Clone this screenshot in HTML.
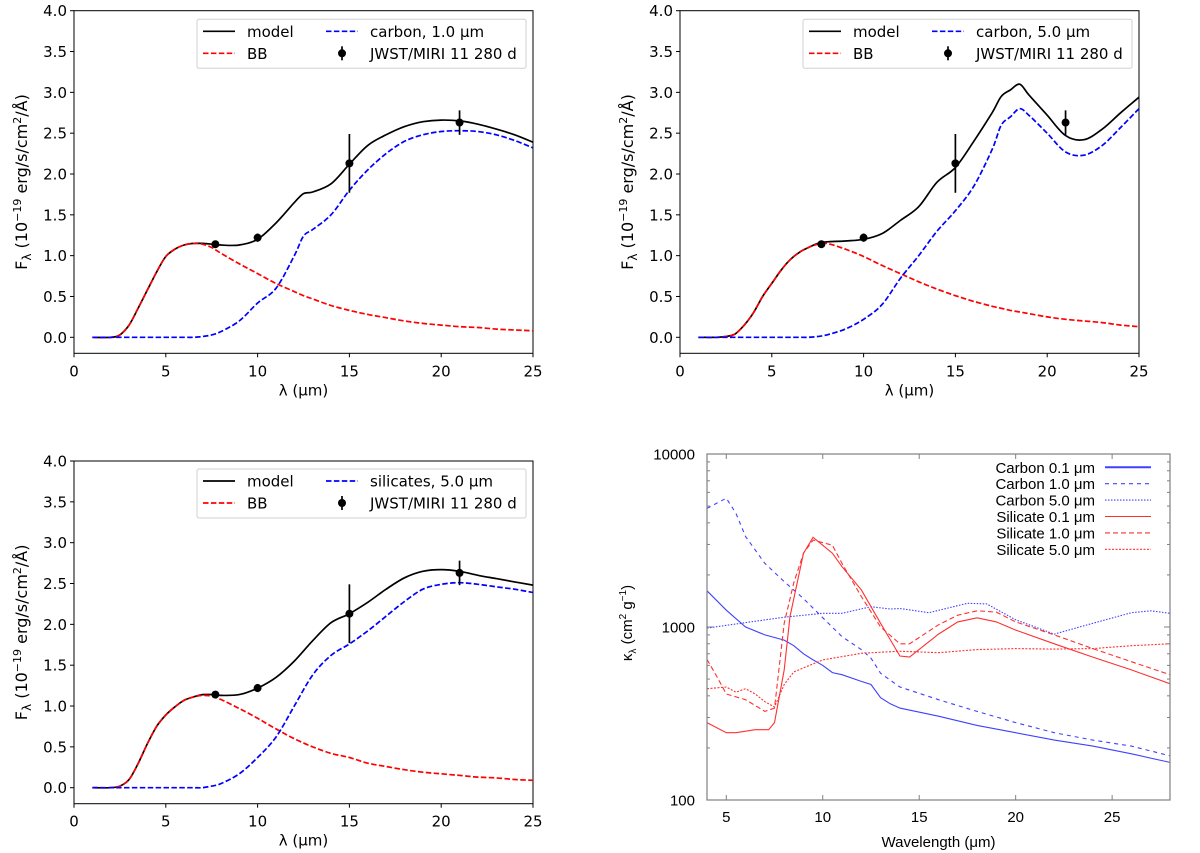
<!DOCTYPE html>
<html><head><meta charset="utf-8"><style>
body{margin:0;background:#fff;}
svg{display:block;font-family:"DejaVu Sans","Liberation Sans",sans-serif;}
</style></head><body>
<svg id="fig" width="1200" height="853" viewBox="0 0 1200 853" xmlns="http://www.w3.org/2000/svg"></svg>
<script>
// ---------- data: panels a,b,c (matplotlib SEDs) ----------
const xA = [1,2,2.5,3,3.5,4,4.5,5,5.5,6,6.5,7,7.5,8,9,10,11,12,12.5,13,14,15,16,17,18,19,20,21,22,23,24,25];
const bbA = [0,0,0.03,0.15,0.36,0.58,0.8,0.99,1.08,1.13,1.15,1.14,1.1,1.03,0.9,0.78,0.66,0.56,0.51,0.47,0.39,0.33,0.28,0.24,0.2,0.17,0.15,0.13,0.12,0.1,0.09,0.08];
const dustA = [0,0,0,0,0,0,0,0,0,0,0,0.01,0.03,0.07,0.2,0.42,0.6,1.0,1.24,1.32,1.5,1.8,2.05,2.25,2.4,2.48,2.52,2.53,2.52,2.48,2.41,2.32];
const modelA = [0,0,0.03,0.15,0.36,0.58,0.8,0.99,1.08,1.13,1.15,1.15,1.14,1.13,1.13,1.2,1.4,1.65,1.76,1.78,1.88,2.12,2.35,2.48,2.58,2.64,2.66,2.65,2.61,2.55,2.48,2.39];

const xB = [1,2,2.5,3,3.5,4,4.5,5,5.5,6,6.5,7,7.5,8,9,10,11,12,13,14,15,16,17,17.5,18,18.5,19,20,21,22,23,24,25];
const bbB = [0,0,0.01,0.04,0.15,0.3,0.5,0.66,0.82,0.95,1.04,1.1,1.14,1.15,1.08,0.99,0.88,0.78,0.68,0.59,0.51,0.44,0.38,0.355,0.33,0.31,0.29,0.25,0.22,0.2,0.18,0.15,0.13];
const dustB = [0,0,0,0,0,0,0,0,0,0,0,0,0.01,0.03,0.1,0.22,0.4,0.72,1.0,1.3,1.55,1.85,2.3,2.6,2.7,2.8,2.72,2.5,2.27,2.23,2.35,2.57,2.8];
const modelB = [0,0,0.01,0.04,0.15,0.3,0.5,0.66,0.82,0.95,1.04,1.1,1.15,1.17,1.18,1.2,1.27,1.43,1.6,1.9,2.08,2.4,2.75,2.95,3.03,3.1,2.97,2.72,2.47,2.42,2.55,2.75,2.94];

const xC = [1,2,2.5,3,3.5,4,4.5,5,5.5,6,6.5,7,7.5,8,9,10,11,12,13,14,15,16,17,18,19,20,21,22,23,24,25];
const bbC = [0,0,0.02,0.1,0.3,0.54,0.75,0.89,0.99,1.07,1.11,1.13,1.12,1.08,0.97,0.85,0.72,0.6,0.5,0.42,0.37,0.3,0.26,0.22,0.19,0.17,0.15,0.13,0.12,0.1,0.09];
const dustC = [0,0,0,0,0,0,0,0,0,0,0,0,0.02,0.05,0.17,0.37,0.62,1.0,1.38,1.62,1.76,1.92,2.1,2.28,2.43,2.49,2.51,2.49,2.46,2.43,2.39];
const modelC = [0,0,0.02,0.1,0.3,0.54,0.75,0.89,0.99,1.07,1.11,1.14,1.14,1.13,1.14,1.22,1.35,1.55,1.8,2.02,2.13,2.27,2.43,2.57,2.65,2.67,2.65,2.6,2.56,2.52,2.48];

const obsX = [7.7,10,15,21];
const obsY = [1.14,1.22,2.13,2.63];
const obsErr = [0.03,0.05,0.36,0.15];

const sedXTicks = [0,5,10,15,20,25];
const sedYTicks = ["0.0","0.5","1.0","1.5","2.0","2.5","3.0","3.5","4.0"];

// ---------- data: panel d (opacities) ----------
const kx_c01 = [4,5,6,7,8,8.5,9,9.5,10,10.5,11,12,12.5,13,13.5,14,16,18,20,22,24,26,28];
const ky_c01 = [1620,1250,1000,900,840,780,700,645,600,545,530,485,465,390,360,340,305,270,245,222,205,185,165];
const kx_c10 = [4,5,5.5,6,7,8,9,10,11,12,12.5,13,14,16,18,20,22,24,26,28];
const ky_c10 = [4850,5550,4550,3330,2330,1830,1460,1130,880,740,660,540,450,380,325,280,245,222,205,180];
const kx_c50 = [4,6,8,10,11,12.5,13.5,14,15.5,17.5,18.5,20,22,24,26,27,28];
const ky_c50 = [985,1060,1140,1200,1200,1310,1270,1280,1210,1370,1360,1100,910,1050,1210,1240,1200];
const kx_s01 = [4,5,5.5,6.5,7.2,7.5,8,8.3,9,9.5,10.5,11,12,13,14,14.5,16,17,18,19,20,22,24,26,28];
const ky_s01 = [280,245,245,255,255,280,565,1150,2670,3300,2670,2230,1640,1050,680,670,910,1070,1130,1070,960,800,670,565,470];
const kx_s10 = [4,4.5,5,6,7,7.5,8,8.5,9,9.5,10.5,11,12,13,14,14.5,16,17,18,19,20,22,24,26,28];
const ky_s10 = [650,520,410,380,325,340,1050,1800,2670,3180,2970,2330,1500,1000,800,800,1030,1170,1240,1220,1070,900,750,630,530];
const kx_s50 = [4,5,5.5,6,6.5,7,7.5,8,8.5,10,12,14,16,18,20,22,24,26,28];
const ky_s50 = [440,450,420,440,410,370,345,465,550,645,705,725,710,740,750,745,750,780,800];
const kXTicks = [5,10,15,20,25];
const kYTicks = [100,1000,10000];

// ---------- helpers ----------
const NS = "http://www.w3.org/2000/svg";
const svg = document.getElementById('fig');
function mk(tag, attrs, parent){
  const e = document.createElementNS(NS, tag);
  for (const k in attrs) e.setAttribute(k, attrs[k]);
  (parent||svg).appendChild(e);
  return e;
}
function pts(xs, ys, fx, fy){ return xs.map((x,i)=>fx(x).toFixed(1)+","+fy(ys[i]).toFixed(1)).join(" "); }
function smooth(xs, ys, fx, fy){
  const P = xs.map((x,i)=>[fx(x), fy(ys[i])]);
  let d = `M${P[0][0].toFixed(1)},${P[0][1].toFixed(1)}`;
  for (let i=0;i<P.length-1;i++){
    const p0=P[Math.max(0,i-1)], p1=P[i], p2=P[i+1], p3=P[Math.min(P.length-1,i+2)];
    const c1=[p1[0]+(p2[0]-p0[0])/6, p1[1]+(p2[1]-p0[1])/6];
    const c2=[p2[0]-(p3[0]-p1[0])/6, p2[1]-(p3[1]-p1[1])/6];
    d += `C${c1[0].toFixed(1)},${c1[1].toFixed(1)} ${c2[0].toFixed(1)},${c2[1].toFixed(1)} ${p2[0].toFixed(1)},${p2[1].toFixed(1)}`;
  }
  return d;
}

function sedPanel(name, L, R, yTop, y0, xs, bb, dust, model, dustLabel, leg){
  const g = mk('g', {});
  
  
  const fx = v => L + (R-L)*v/25;
  const fy = v => y0 - (y0-yTop)*v/4;
  const B = y0 + 16;
  const fr = mk('rect', {x:L, y:yTop, width:R-L, height:B-yTop, fill:'none', stroke:'#000', 'stroke-width':1}, g);
  
  
  sedXTicks.forEach(t=>{
    const x = fx(t);
    mk('line', {x1:x, x2:x, y1:B, y2:B+4, stroke:'#000'}, g);
    const tx = mk('text', {x:x, y:B+23, 'text-anchor':'middle', 'font-size':15}, g);
    tx.textContent = t;
    
    
  });
  sedYTicks.forEach(t=>{
    const y = fy(parseFloat(t));
    mk('line', {x1:L-4, x2:L, y1:y, y2:y, stroke:'#000'}, g);
    const tx = mk('text', {x:L-7, y:y+5.5, 'text-anchor':'end', 'font-size':15}, g);
    tx.textContent = t;
    
    
  });
  const xt = mk('text', {x:(L+R)/2, y:B+42, 'text-anchor':'middle', 'font-size':15}, g);
  xt.textContent = 'λ (μm)';
  
  
  const yc = (yTop+B)/2;
  const yt = mk('text', {x:0, y:0, 'text-anchor':'middle', 'font-size':16, transform:`translate(${L-47},${yc}) rotate(-90)`}, g);
  
  
  yt.innerHTML = 'F<tspan font-size="12" dy="4">λ</tspan><tspan dy="-4"> (10</tspan><tspan font-size="11" dy="-6">−19</tspan><tspan dy="6"> erg/s/cm</tspan><tspan font-size="11" dy="-6">2</tspan><tspan dy="6">/Å)</tspan>';
  const cp = 'cp'+name;
  const clip = mk('clipPath', {id:cp}, g);
  mk('rect', {x:L, y:yTop, width:R-L, height:B-yTop}, clip);
  const sg = mk('g', {'clip-path':`url(#${cp})`}, g);
  const m = mk('path', {d:smooth(xs, model, fx, fy), fill:'none', stroke:'#000', 'stroke-width':1.7}, sg);
  
  
  const b = mk('path', {d:smooth(xs, bb, fx, fy), fill:'none', stroke:'#ff0000', 'stroke-width':1.7, 'stroke-dasharray':'5.5,2.4'}, sg);
  
  
  const d = mk('path', {d:smooth(xs, dust, fx, fy), fill:'none', stroke:'#0000ff', 'stroke-width':1.7, 'stroke-dasharray':'5.5,2.4'}, sg);
  
  
  obsX.forEach((x,i)=>{
    const eb = mk('line', {x1:fx(x), x2:fx(x), y1:fy(obsY[i]-obsErr[i]), y2:fy(obsY[i]+obsErr[i]), stroke:'#000', 'stroke-width':1.7}, sg);
    
    
    const c = mk('circle', {cx:fx(x), cy:fy(obsY[i]), r:4, fill:'#000'}, sg);
    
    
  });
  const lg = mk('g', {}, g);
  
  
  mk('rect', {x:leg.x, y:leg.y, width:leg.w, height:49, rx:2, fill:'#fff', 'fill-opacity':0.8, stroke:'#d0d0d0'}, lg);
  const r1 = leg.y+12, r2 = leg.y+34;
  const lx = leg.x+6, cx2 = leg.x+129;
  mk('line', {x1:lx, x2:lx+32, y1:r1, y2:r1, stroke:'#000', 'stroke-width':1.7}, lg);
  mk('line', {x1:lx, x2:lx+32, y1:r2, y2:r2, stroke:'#ff0000', 'stroke-width':1.7, 'stroke-dasharray':'5.5,2.4'}, lg);
  mk('line', {x1:cx2, x2:cx2+32, y1:r1, y2:r1, stroke:'#0000ff', 'stroke-width':1.7, 'stroke-dasharray':'5.5,2.4'}, lg);
  mk('line', {x1:cx2+16, x2:cx2+16, y1:r2-7, y2:r2+7, stroke:'#000', 'stroke-width':1.7}, lg);
  mk('circle', {cx:cx2+16, cy:r2, r:4, fill:'#000'}, lg);
  const texts = [[lx+44, r1, 'model','legend-model'],[lx+44, r2, 'BB','legend-bb'],[cx2+44, r1, dustLabel,'legend-dust'],[cx2+44, r2, 'JWST/MIRI 11 280 d','legend-jwst']];
  texts.forEach(t=>{
    const tx = mk('text', {x:t[0], y:t[1]+5.5, 'font-size':15}, lg);
    tx.textContent = t[2];
    
    
  });
}

sedPanel('panel-carbon-1um', 74, 533, 10.7, 337.3, xA, bbA, dustA, modelA, 'carbon, 1.0 μm', {x:197, y:19.3, w:329});
sedPanel('panel-carbon-5um', 680, 1139, 10.7, 337.3, xB, bbB, dustB, modelB, 'carbon, 5.0 μm', {x:803, y:19.3, w:329});
sedPanel('panel-silicates-5um', 74, 533, 461, 787.7, xC, bbC, dustC, modelC, 'silicates, 5.0 μm', {x:197, y:469, w:329});

// ---------- panel d ----------
(function(){
  const L=707, R=1170, T=454, B=800;
  const g = mk('g', {});
  
  
  g.setAttribute('font-family', '"Liberation Sans", sans-serif');
  const fx = v => L + (R-L)*(v-4)/24;
  const fy = v => B - (B-T)*(Math.log10(v)-2)/2;
  const gray = '#808080';
  kXTicks.forEach(t=>{
    const x = fx(t);
    mk('line', {x1:x, x2:x, y1:B, y2:B-5, stroke:gray}, g);
    mk('line', {x1:x, x2:x, y1:T, y2:T+5, stroke:gray}, g);
    const tx = mk('text', {x:x, y:B+22, 'text-anchor':'middle', 'font-size':15}, g);
    tx.textContent = t;
    
    
  });
  for (let dec=100; dec<10000; dec*=10){
    for (let k=2;k<10;k++){
      const y = fy(dec*k);
      mk('line', {x1:L, x2:L+3, y1:y, y2:y, stroke:gray}, g);
      mk('line', {x1:R, x2:R-3, y1:y, y2:y, stroke:gray}, g);
    }
  }
  kYTicks.forEach(t=>{
    const y = fy(t);
    mk('line', {x1:L, x2:L+6, y1:y, y2:y, stroke:gray}, g);
    mk('line', {x1:R, x2:R-6, y1:y, y2:y, stroke:gray}, g);
    const tx = mk('text', {x:L-12, y:y+5.5, 'text-anchor':'end', 'font-size':15}, g);
    tx.textContent = t;
    
    
  });
  const xt = mk('text', {x:(L+R)/2, y:847, 'text-anchor':'middle', 'font-size':15}, g);
  xt.textContent = 'Wavelength (μm)';
  
  
  const yt = mk('text', {x:0, y:0, 'text-anchor':'middle', 'font-size':15, transform:`translate(632,623) rotate(-90)`}, g);
  
  
  yt.innerHTML = 'κ<tspan font-size="10" dy="4">λ</tspan><tspan dy="-4"> (cm</tspan><tspan font-size="10" dy="-6">2</tspan><tspan dy="6"> g</tspan><tspan font-size="10" dy="-6">−1</tspan><tspan dy="6">)</tspan>';
  const cl = mk('clipPath', {id:'cpk'}, g);
  mk('rect', {x:L, y:T, width:R-L, height:B-T}, cl);
  const sg = mk('g', {'clip-path':'url(#cpk)'}, g);
  const blue='#4040ff', red='#ff3030';
  const series = [
    [kx_c01, ky_c01, blue, '', 'carbon-0.1-line', 'Carbon 0.1 μm'],
    [kx_c10, ky_c10, blue, '4,4', 'carbon-1.0-line', 'Carbon 1.0 μm'],
    [kx_c50, ky_c50, blue, '1.5,1.5', 'carbon-5.0-line', 'Carbon 5.0 μm'],
    [kx_s01, ky_s01, red, '', 'silicate-0.1-line', 'Silicate 0.1 μm'],
    [kx_s10, ky_s10, red, '5,3', 'silicate-1.0-line', 'Silicate 1.0 μm'],
    [kx_s50, ky_s50, red, '2,1.5', 'silicate-5.0-line', 'Silicate 5.0 μm']
  ];
  series.forEach((s,i)=>{
    const p = mk('polyline', {points:pts(s[0], s[1], fx, fy), fill:'none', stroke:s[2], 'stroke-width':1.1, 'stroke-dasharray':s[3]||'none'}, sg);
    
    
    const ry = 467.3 + i*16.4;
    const tx = mk('text', {x:1095, y:ry+5.5, 'text-anchor':'end', 'font-size':15}, g);
    tx.textContent = s[5];
    
    
    mk('line', {x1:1105, x2:1151, y1:ry, y2:ry, stroke:s[2], 'stroke-width':i==0?2:1.1, 'stroke-dasharray':s[3]||'none'}, g);
  });
  const fr = mk('rect', {x:L, y:T, width:R-L, height:B-T, fill:'none', stroke:gray, 'stroke-width':1.2}, g);
  
  
})();
</script>
</body></html>
